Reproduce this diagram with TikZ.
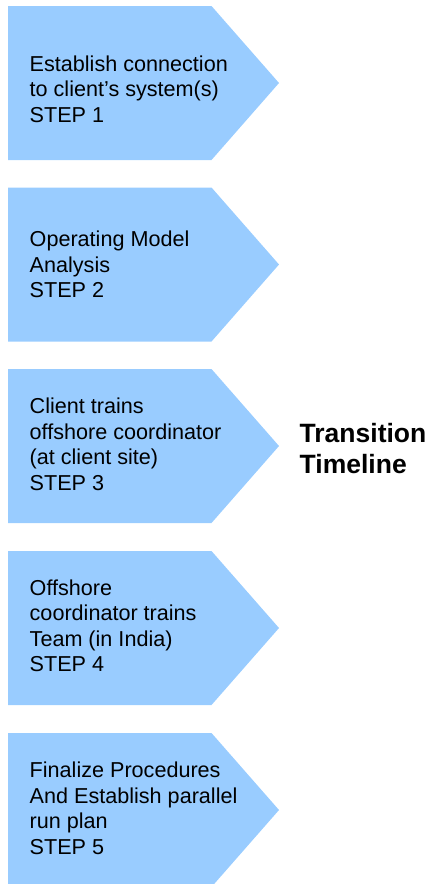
\documentclass[tikz,border=0pt]{standalone}
\usepackage{fontspec}
\setmainfont{Liberation Sans}
\definecolor{stepblue}{RGB}{153,204,255}

\begin{document}
\begin{tikzpicture}[x=1pt, y=-1pt,
  every node/.style = {inner sep=0pt, anchor=north west, align=left},
  stepshape/.style = {fill=stepblue},
  steptext/.style = {font=\fontsize{21.6}{25.5}\selectfont},
  titletext/.style = {font=\fontsize{26.5}{31}\selectfont\bfseries}]
  \useasboundingbox (0,0) rectangle (430,884);
  \foreach \ytop in {6,187.5,369,551,733}
    \fill[stepshape] (8,\ytop) -- (211.5,\ytop) -- (279,\ytop+77)
      -- (211.5,\ytop+154) -- (8,\ytop+154) -- cycle;
  \node[steptext] (step1) at (29.5,53.15)
    {\strut Establish connection\\to client's system(s)\\STEP 1};
  \node[steptext] (step2) at (29.5,228.85)
    {\strut Operating Model\\Analysis\\STEP 2};
  \node[steptext] (step3) at (29.5,395.45)
    {\strut Client trains\\offshore coordinator\\(at client site)\\STEP 3};
  \node[steptext] (step4) at (29.5,577.15)
    {\strut Offshore\\coordinator trains\\Team (in India)\\STEP 4};
  \node[steptext] (step5) at (29.5,759.85)
    {\strut Finalize Procedures\\And Establish parallel\\run plan\\STEP 5};
  \node[titletext] (title) at (299.5,420.6)
    {\strut Transition\\Timeline};
\end{tikzpicture}
\end{document}
